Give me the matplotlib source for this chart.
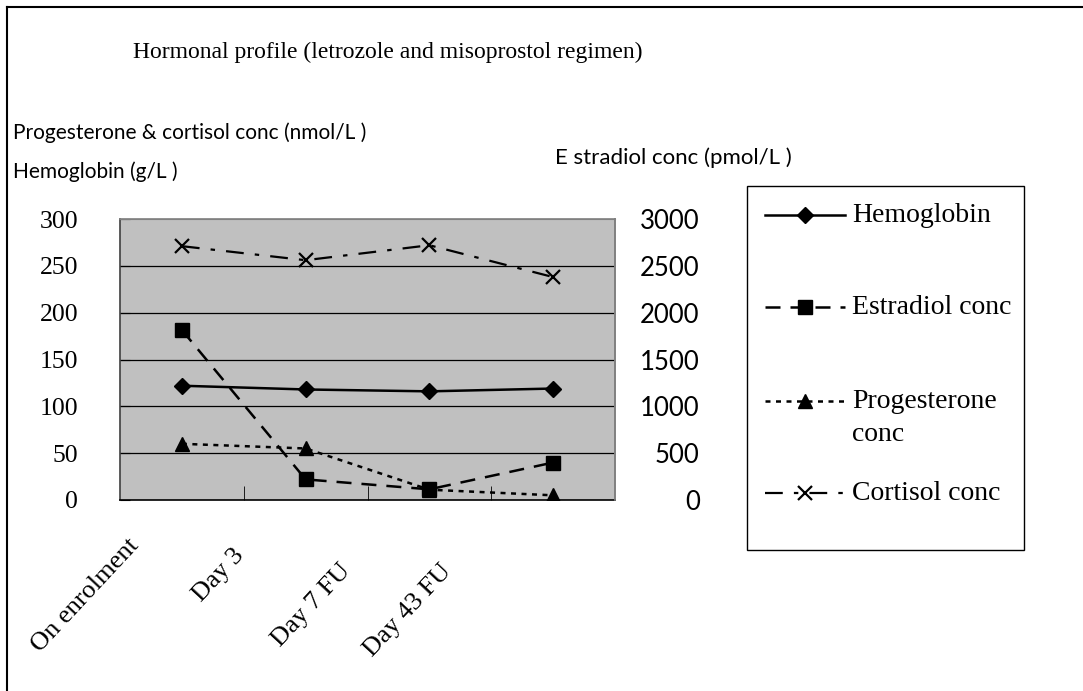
import matplotlib
matplotlib.use("Agg")
import matplotlib.pyplot as plt
from matplotlib.lines import Line2D
from matplotlib.patches import Rectangle
from matplotlib.transforms import ScaledTranslation

categories = ["On enrolment", "Day 3", "Day 7 FU", "Day 43 FU"]
hemoglobin = [122, 118, 116, 119]
estradiol = [1815, 220, 114, 400]
progesterone = [60, 55, 11, 5]
cortisol = [271, 256, 272, 238]
left_ticks = [0, 50, 100, 150, 200, 250, 300]
right_ticks = [0, 500, 1000, 1500, 2000, 2500, 3000]
series_names = ["Hemoglobin", "Estradiol conc", "Progesterone\nconc", "Cortisol conc"]

SERIF = "Liberation Serif"
SANS = "Lato"
W, H = 1083, 691

# one style per series
styles = [
    dict(color="black", lw=1.8, ls="-", marker="D", ms=8),
    dict(color="black", lw=1.8, ls=(0, (6, 4)), marker="s", ms=10),
    dict(color="black", lw=1.8, ls=(0, (2, 2.2)), marker="^", ms=10),
    dict(color="black", lw=1.6, ls=(0, (8, 5, 2, 5)), marker="x", ms=10, mew=1.6),
]

fig = plt.figure(figsize=(W / 100, H / 100), dpi=100)
ax = fig.add_axes([120 / W, 1 - 500 / H, 495 / W, 281 / H])
ax2 = ax.twinx()

x = list(range(len(categories)))
ax.set_facecolor("#c0c0c0")
ax.set_xlim(-0.5, 3.5)
ax.set_ylim(0, 300)
ax2.set_ylim(0, 3000)

for v in left_ticks[1:-1]:
    ax.axhline(v, color="black", lw=0.9, zorder=1)

ax.plot(x, hemoglobin, zorder=3, **styles[0])
ax.plot(x, progesterone, zorder=3, **styles[2])
ax.plot(x, cortisol, zorder=3, **styles[3])
ax2.plot(x, estradiol, zorder=3, **styles[1])

for s in ["top", "right"]:
    ax.spines[s].set_color("#808080")
    ax2.spines[s].set_color("#808080")
ax.spines["left"].set_color("#404040")
ax.spines["bottom"].set_color("black")
ax2.spines["left"].set_visible(False)
ax2.spines["bottom"].set_visible(False)
for sp in ax.spines.values():
    sp.set_linewidth(1.2)
ax2.spines["right"].set_linewidth(1.2)

ax.set_yticks(left_ticks)
ax.set_yticklabels([str(t) for t in left_ticks], fontfamily=SERIF,
                   fontsize=18.5)
ax.tick_params(axis="y", direction="in", length=7, pad=30)
ax2.set_yticks(right_ticks)
ax2.set_yticklabels([str(t) for t in right_ticks], fontfamily=SANS,
                    fontsize=18.5)
ax2.tick_params(axis="y", direction="in", length=0, pad=61)
for lbl in ax2.get_yticklabels():
    lbl.set_horizontalalignment("right")

ax.set_xticks([0.5, 1.5, 2.5], minor=True)
ax.tick_params(axis="x", which="minor", direction="in", length=10)
ax.set_xticks(x)
ax.set_xticklabels(categories, fontfamily=SERIF, fontsize=19,
                   rotation=47, ha="right", rotation_mode="anchor")
ax.tick_params(axis="x", which="major", length=0, pad=10)
offsets = [(-0.55, -0.21), (-0.73, -0.31), (-0.90, -0.46), (-1.13, -0.46)]
for lbl, (dx, dy) in zip(ax.get_xticklabels(), offsets):
    lbl.set_transform(lbl.get_transform() + ScaledTranslation(dx, dy, fig.dpi_scale_trans))

fig.text(388 / W, 1 - 52 / H,
         "Hormonal profile (letrozole and misoprostol regimen)",
         fontfamily=SERIF, fontsize=17, ha="center", va="center")
fig.text(13 / W, 1 - 133 / H,
         "Progesterone & cortisol conc (nmol/L )",
         fontfamily=SANS, fontsize=15, ha="left", va="center")
fig.text(13 / W, 1 - 172 / H, "Hemoglobin (g/L )",
         fontfamily=SANS, fontsize=15, ha="left", va="center")
fig.text(555 / W, 1 - 158 / H, "E stradiol conc (pmol/L )",
         fontfamily=SANS, fontsize=16, ha="left", va="center")

# outer border (left and top only are visible)
fig.add_artist(Line2D([7 / W, 7 / W], [0, 1 - 7 / H],
                      color="black", lw=1.5))
fig.add_artist(Line2D([7 / W, 1], [1 - 7 / H, 1 - 7 / H],
                      color="black", lw=1.5))

# legend box drawn by hand to follow the Excel layout
fig.add_artist(Rectangle((747 / W, 1 - 550 / H), 277 / W, 364 / H,
                         transform=fig.transFigure, fill=False,
                         edgecolor="black", lw=1.0))
entry_y = [215, 307, 401, 493]
for st, name, yy in zip(styles, series_names, entry_y):
    yf = 1 - yy / H
    fig.add_artist(Line2D([765 / W, 845 / W], [yf, yf],
                          **{k: v for k, v in st.items() if k != "marker"}))
    fig.add_artist(Line2D([805 / W], [yf], color="black",
                          marker=st["marker"], ms=st["ms"],
                          mew=st.get("mew", 1.0), ls="none"))
    fig.text(852 / W, yf + 12 / H, name, fontfamily=SERIF, fontsize=20,
             ha="left", va="top", linespacing=1.4)

fig.savefig("out.png", dpi=100)
